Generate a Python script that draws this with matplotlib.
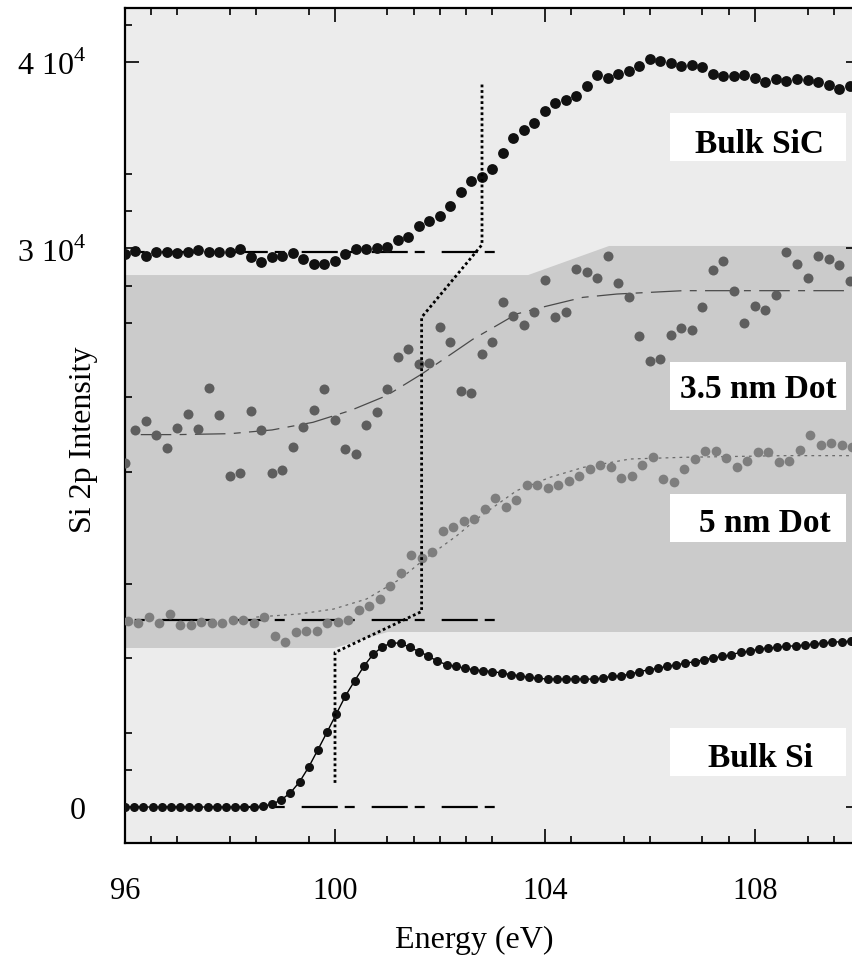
import matplotlib.pyplot as plt
import numpy as np

plt.rcParams['font.family'] = 'Liberation Serif'
plt.rcParams['mathtext.fontset'] = 'custom'
plt.rcParams['mathtext.rm'] = 'Liberation Serif'
plt.rcParams['lines.scale_dashes'] = False

# energy grids (eV), regular spectrometer steps
e_sic = 96.0 + 0.2 * np.arange(70)
e_35 = 96.0 + 0.2 * np.arange(70)
e_5 = 96.05 + 0.2 * np.arange(70)
e_si = 96.0 + 0.175 * np.arange(80)

bulk_sic = [29700, 29860, 29590, 29800, 29800, 29750, 29800, 29910, 29800, 29800,
            29800, 29970, 29540, 29270, 29540, 29590, 29750, 29430, 29160, 29160,
            29320, 29700, 29970, 29970, 30020, 30080, 30450, 30610, 31200,
            31490, 31720, 32260, 33010, 33640, 33820, 34260, 35120, 35910, 36360,
            36730, 37400, 37820, 37970, 38200, 38740, 39330, 39170, 39370, 39540,
            39810, 40170, 40080, 39960, 39780, 39850, 39730, 39370, 39270, 39240,
            39310, 39150, 38950, 39100, 39010, 39100, 39050, 38920, 38780, 38560, 38700]

dot_35 = [18460, 20260, 20750, 20000, 19260, 20350, 21090, 20300, 22500, 21070,
          17790, 17920, 21270, 20260, 17920, 18100, 19350, 20430, 21340, 22450,
          20780, 19230, 18960, 20530, 21200, 22450, 24180, 24600, 23780, 23850,
          25800, 24960, 22360, 22220,
          24310, 24960, 27140, 26350, 25890, 26570, 28320, 26330, 26570, 28890,
          28720, 28410, 29610, 28130, 27370, 25310, 23970, 24060, 25350, 25710,
          25630, 26870, 28860, 29340, 27730, 25990, 26920, 26710, 27510, 29790,
          29160, 28410, 29610, 29430, 29110, 28270]

dot_5 = [10010, 9880, 10190, 9860, 10370, 9770, 9770, 9950, 9880, 9880,
         10030, 10060, 9880, 10190, 9170, 8850, 9380, 9450, 9450, 9880,
         9950, 10060, 10600, 10810, 11170, 11850, 12570, 13530, 13390, 13710,
         14820, 15050, 15380, 15470, 16000, 16600,
         16090, 16500, 17310, 17310, 17110, 17290, 17490, 17790, 18150, 18380,
         18240, 17650, 17790, 18380, 18780, 17620, 17470, 18150, 18690, 19100,
         19100, 18740, 18240, 18600, 19050, 19050, 18510, 18570, 19170, 19980,
         19440, 19550, 19440, 19320]

bulk_si = [0, 0, 0, 0, 0, 0, 0, 0, 0, 0, 0, 0, 0, 0, 0,
           40, 150, 380, 760, 1350, 2150, 3080, 4030, 5000, 5970,
           6780, 7560, 8200, 8600, 8810, 8800, 8570, 8350, 8110, 7830,
           7650, 7560, 7450, 7370, 7320, 7270, 7200, 7110, 7050, 6960,
           6910, 6870, 6870, 6870, 6870, 6870, 6870, 6930, 7020, 7050,
           7140, 7270, 7370, 7450, 7560, 7630, 7730, 7800, 7910, 8000,
           8090, 8180, 8310, 8360, 8490, 8540, 8580, 8630, 8660, 8700,
           8750, 8810, 8850, 8880, 8900]

# fitted curves for the dots
fit35_x = [96.3, 97.0, 98.0, 98.8, 99.58, 100.3, 100.98, 101.65, 102.2, 102.63,
           103.02, 103.46, 103.96, 104.72, 105.37, 106.63, 110.0]
fit35_y = [20000, 20000, 20050, 20250, 20660, 21300, 22090, 23250, 24300, 25130,
           25760, 26480, 26850, 27370, 27550, 27730, 27730]
fit5_x = [98.5, 99.33, 99.97, 100.6, 101.24, 101.7, 102.32, 102.7, 103.46, 104.1,
          104.73, 105.62, 106.63, 108.54, 110.0]
fit5_y = [10200, 10370, 10630, 11170, 12240, 13300, 14570, 15470, 16990, 17710,
          18240, 18690, 18780, 18870, 18870]

# band edges (valence band maximum guide)
edge_x = [102.8, 102.8, 101.65, 101.65, 100.0, 100.0]
edge_y = [38800, 30200, 26300, 10500, 8300, 1250]

# baselines: (level, x end)
base_levels = [29800, 10060, 0]
base_end = 103.05

# shaded region behind the dot spectra
band_x = [96.0, 103.68, 105.22, 110.5, 110.5, 101.0, 100.0, 96.0]
band_y = [28570, 28570, 30130, 30130, 9400, 9400, 8540, 8540]

labels = ['Bulk SiC', '3.5 nm Dot', '5 nm Dot', 'Bulk Si']
label_box_y = [0.8168, 0.5186, 0.3605, 0.0802]
label_text_pos = [(0.8635, 0.8275), (0.861, 0.534), (0.871, 0.374), (0.865, 0.0926)]

fig = plt.figure(figsize=(8.52, 9.62), dpi=100)
ax = fig.add_axes([0.14671, 0.12266, 0.86268, 0.86798])
ax.set_facecolor('#ececec')

ax.fill(band_x, band_y, color='#cbcbcb', lw=0, zorder=0)

dash_base = (24, (26, 5, 7.2, 12.2))
for lev in base_levels:
    ax.plot([96.0, base_end], [lev, lev], color='black', lw=1.6, ls=dash_base, zorder=2)

ax.plot(fit35_x, fit35_y, color='#4a4a4a', lw=0.9, ls=(0, (22, 6, 5, 6)), zorder=2)
ax.plot(fit5_x, fit5_y, color='#6a6a6a', lw=0.9, ls=(0, (2, 3)), zorder=2)

ax.plot(e_si, bulk_si, color='black', lw=1.0, zorder=3)
ax.plot(e_si, bulk_si, 'o', color='#111111', ms=6.5, mew=0, zorder=4)
ax.plot(e_sic, bulk_sic, 'o', color='#111111', ms=7.8, mew=0, zorder=4)
ax.plot(e_35, dot_35, 'o', color='#5e5e5e', ms=7.2, mew=0, zorder=4)
ax.plot(e_5, dot_5, 'o', color='#7e7e7e', ms=7.0, mew=0, zorder=4)

ax.plot(edge_x, edge_y, color='black', lw=2.0, ls=(0, (2, 2)), zorder=5)

for txt, by, (tx, ty) in zip(labels, label_box_y, label_text_pos):
    ax.add_patch(plt.Rectangle((0.7415, by), 0.2395, 0.058, transform=ax.transAxes,
                               facecolor='white', edgecolor='none', zorder=6))
    ax.text(tx, ty, txt, transform=ax.transAxes, ha='center', va='baseline',
            fontsize=24, fontweight='bold', zorder=7)

ax.set_xlim(96, 110)
ax.set_ylim(-1933, 42911)
ax.set_xticks([96, 100, 104, 108])
ax.set_xticks([96.5, 97, 98, 98.5, 99.5, 101, 101.5, 102, 102.5, 103,
               104.5, 105.5, 106, 107, 107.5, 109, 109.5], minor=True)
ax.set_yticks([0, 30000, 40000])
ax.set_yticklabels(['0', r'3 10$^4$', r'4 10$^4$'])
ax.set_yticks([2000, 4000, 8000, 12000, 18000, 22000, 26000, 28000,
               32000, 34000, 42000], minor=True)
ax.tick_params(which='both', direction='in', top=True, right=True, width=1.2)
ax.tick_params(which='major', length=10)
ax.tick_params(which='minor', length=5)
ax.tick_params(axis='x', labelsize=22, pad=24)
ax.tick_params(axis='y', labelsize=23, pad=28)
for s in ax.spines.values():
    s.set_linewidth(1.6)

ax.set_xlabel('Energy (eV)', fontsize=23)
ax.xaxis.set_label_coords(0.4748, -0.098)
ax.set_ylabel('Si 2p Intensity', fontsize=23)
ax.yaxis.set_label_coords(-0.0367, 0.4838)

fig.savefig('out.png', dpi=100)
